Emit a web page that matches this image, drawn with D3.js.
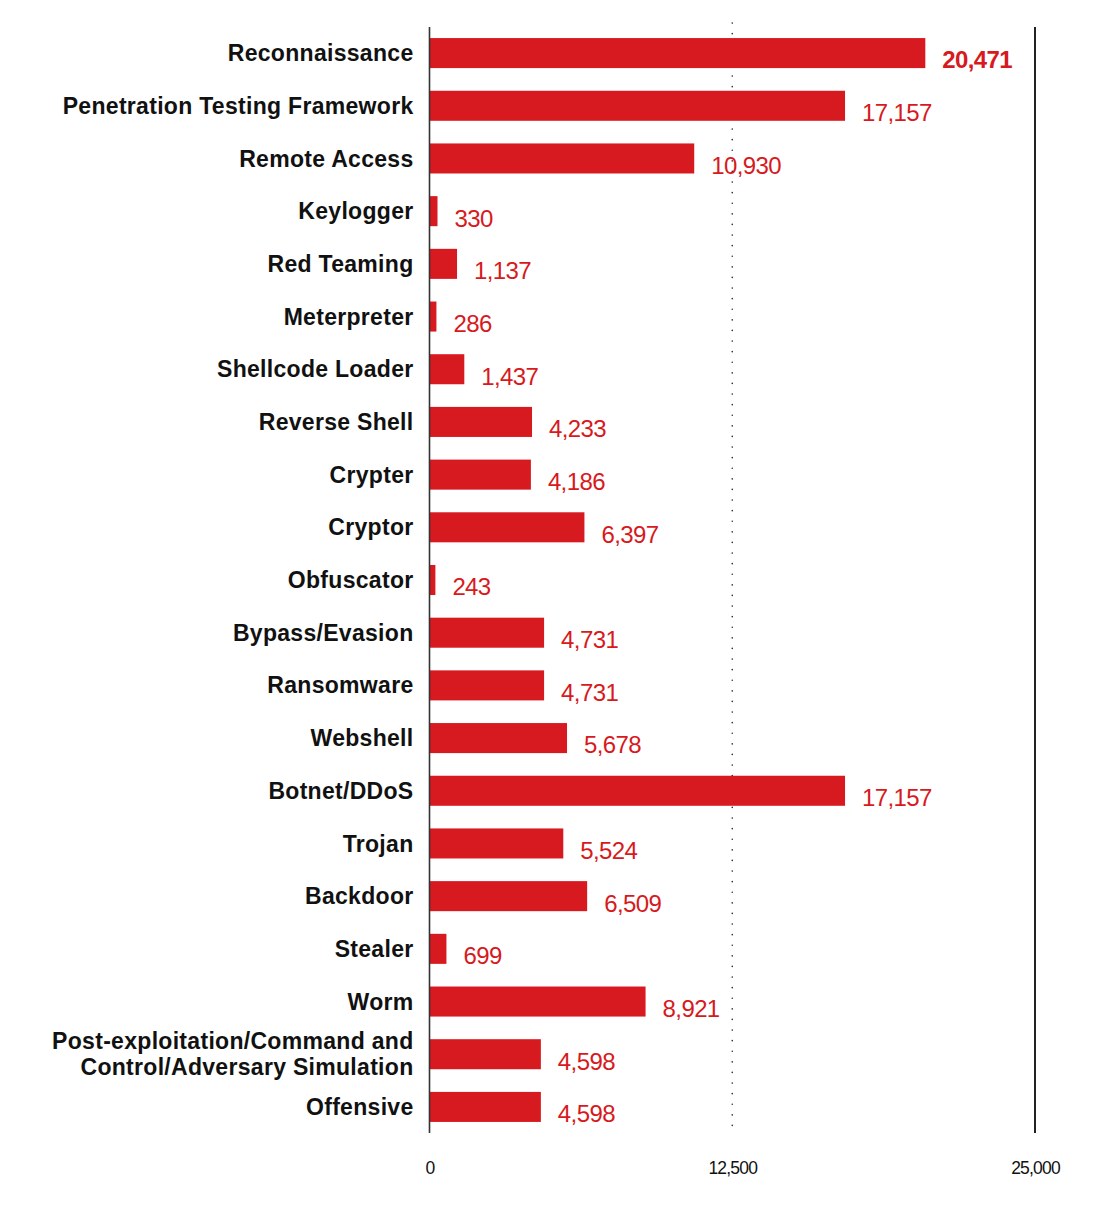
<!DOCTYPE html>
<html>
<head>
<meta charset="utf-8">
<script src="https://cdn.jsdelivr.net/npm/d3@7"></script>
<style>
  body { margin: 0; background: #fff; }
  svg text { font-family: "Liberation Sans", Arial, sans-serif; }
</style>
</head>
<body>
<svg id="chart"></svg>
<script>
const categories = [
  "Reconnaissance",
  "Penetration Testing Framework",
  "Remote Access",
  "Keylogger",
  "Red Teaming",
  "Meterpreter",
  "Shellcode Loader",
  "Reverse Shell",
  "Crypter",
  "Cryptor",
  "Obfuscator",
  "Bypass/Evasion",
  "Ransomware",
  "Webshell",
  "Botnet/DDoS",
  "Trojan",
  "Backdoor",
  "Stealer",
  "Worm",
  "Post-exploitation/Command and Control/Adversary Simulation",
  "Offensive"
];
const counts = [20471, 17157, 10930, 330, 1137, 286, 1437, 4233, 4186, 6397,
  243, 4731, 4731, 5678, 17157, 5524, 6509, 699, 8921, 4598, 4598];
const tickValues = [0, 12500, 25000];

// labels that wrap onto two lines
const wrapped = {
  "Post-exploitation/Command and Control/Adversary Simulation":
    ["Post-exploitation/Command and", "Control/Adversary Simulation"]
};

const width = 1108, height = 1205;
const margins = { top: 27, right: 73, bottom: 72, left: 429.5 };

const svg = d3.select("svg#chart").attr("width", width).attr("height", height);

const data = categories.map((c, i) => ({ name: c, value: counts[i] }));

const x = d3.scaleLinear()
  .domain([0, 25000])
  .range([margins.left, width - margins.right]);

const y = d3.scaleBand()
  .domain(categories)
  .range([margins.top, height - margins.bottom])
  .paddingInner(0.43)
  .paddingOuter(0.21);

const red = "#d71920";

// dotted midline
svg.append("line")
  .attr("x1", x(12500)).attr("x2", x(12500))
  .attr("y1", margins.top - 4).attr("y2", height - margins.bottom)
  .attr("stroke", "#333")
  .attr("stroke-width", 1.6)
  .attr("stroke-dasharray", "0.1 10.5")
  .attr("stroke-linecap", "round");

// right border line at max
svg.append("line")
  .attr("x1", x(25000)).attr("x2", x(25000))
  .attr("y1", margins.top).attr("y2", height - margins.bottom)
  .attr("stroke", "#222").attr("stroke-width", 2);

// bars
svg.append("g")
  .selectAll("rect")
  .data(data)
  .join("rect")
  .attr("x", x(0))
  .attr("y", d => y(d.name))
  .attr("width", d => x(d.value) - x(0))
  .attr("height", y.bandwidth())
  .attr("fill", red);

// left axis line
svg.append("line")
  .attr("x1", x(0)).attr("x2", x(0))
  .attr("y1", margins.top).attr("y2", height - margins.bottom)
  .attr("stroke", "#333").attr("stroke-width", 1.6);

// value labels
svg.append("g")
  .selectAll("text")
  .data(data)
  .join("text")
  .attr("x", d => x(d.value) + 17)
  .attr("y", d => y(d.name) + y.bandwidth() / 2 + 7)
  .attr("dy", "0.35em")
  .attr("fill", red)
  .attr("font-size", 24)
  .attr("letter-spacing", -0.6)
  .attr("font-weight", (d, i) => i === 0 ? "bold" : "normal")
  .text(d => d3.format(",")(d.value));

// category labels
const names = svg.append("g")
  .selectAll("text")
  .data(data)
  .join("text")
  .attr("x", x(0) - 16)
  .attr("y", d => y(d.name) + y.bandwidth() / 2)
  .attr("text-anchor", "end")
  .attr("font-size", 23)
  .attr("letter-spacing", 0.3)
  .attr("font-weight", "bold")
  .attr("fill", "#111");

names.each(function (d) {
  const el = d3.select(this);
  const lines = wrapped[d.name] || [d.name];
  lines.forEach((ln, j) => {
    el.append("tspan")
      .attr("x", x(0) - 16)
      .attr("dy", j === 0 ? (0.35 - (lines.length - 1) * 0.56) + "em" : "1.12em")
      .text(ln);
  });
});

// bottom tick labels
svg.append("g")
  .attr("transform", `translate(0,${height - margins.bottom + 26})`)
  .call(d3.axisBottom(x).tickValues(tickValues).tickSize(0).tickFormat(d3.format(",")))
  .call(g => g.select(".domain").remove())
  .call(g => g.selectAll("text")
    .attr("font-size", 17.5)
    .attr("letter-spacing", -0.8)
    .attr("fill", "#111")
    .style("font-family", "'Liberation Sans', Arial, sans-serif"));
</script>
</body>
</html>
